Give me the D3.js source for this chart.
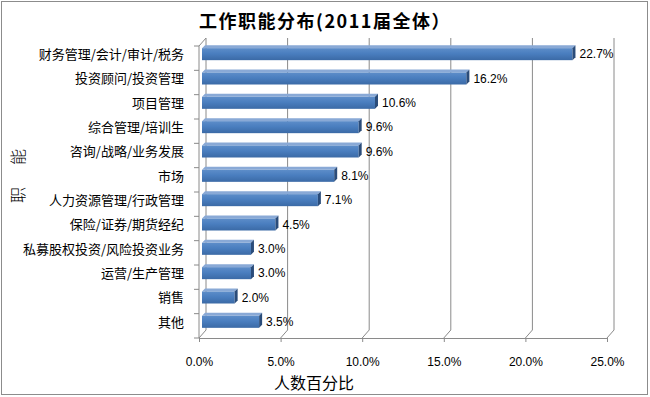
<!DOCTYPE html>
<html>
<head>
<meta charset="utf-8">
<script src="https://cdn.jsdelivr.net/npm/d3@7"></script>
<style>
  body { margin: 0; background: #fff; }
  text { font-family: "Noto Sans CJK SC", "Liberation Sans", sans-serif; }
</style>
</head>
<body>
<div id="chart"></div>
<script>
const categories = ["财务管理/会计/审计/税务", "投资顾问/投资管理", "项目管理", "综合管理/培训生",
  "咨询/战略/业务发展", "市场", "人力资源管理/行政管理", "保险/证券/期货经纪",
  "私募股权投资/风险投资业务", "运营/生产管理", "销售", "其他"];
const values = [0.227, 0.162, 0.106, 0.096, 0.096, 0.081, 0.071, 0.045, 0.030, 0.030, 0.020, 0.035];
const xTicks = [0, 0.05, 0.10, 0.15, 0.20, 0.25];

const W = 650, H = 397;
const depth = { x: 7, y: 8 }; // 3d wall offset
const numFont = "'Liberation Sans', Arial, sans-serif";

const svg = d3.select("#chart").append("svg")
  .attr("width", W).attr("height", H);

// chart border
svg.append("rect")
  .attr("x", 1.5).attr("y", 1.5)
  .attr("width", 646).attr("height", 393)
  .attr("fill", "#fff").attr("stroke", "#8c8c8c");

const x = d3.scaleLinear().domain([0, 0.25]).range([199, 607]);
const y = d3.scaleBand().domain(categories).range([46, 338]);
const yBottom = y.range()[1], yTop = y.range()[0];

const defs = svg.append("defs");
const grad = defs.append("linearGradient").attr("id", "barFront")
  .attr("x1", 0).attr("y1", 0).attr("x2", 0).attr("y2", 1);
grad.append("stop").attr("offset", "0%").attr("stop-color", "#5d8dc9");
grad.append("stop").attr("offset", "45%").attr("stop-color", "#4a7ebf");
grad.append("stop").attr("offset", "100%").attr("stop-color", "#3b6aa6");

// back wall gridlines + floor slants
const grid = svg.append("g").attr("stroke", "#8a8a8a").attr("fill", "none");
xTicks.forEach(t => {
  if (t === 0) return;
  grid.append("path")
    .attr("d", `M${x(t) + depth.x},${yTop - depth.y}V${yBottom - depth.y}L${x(t)},${yBottom}`);
});

// left wall
grid.append("path")
  .attr("d", `M${x(0)},${yTop}L${x(0) + depth.x},${yTop - depth.y}V${yBottom - depth.y}L${x(0)},${yBottom}`);

// front left axis line and ticks at band edges
const yAxis = svg.append("g").attr("stroke", "#8a8a8a");
yAxis.append("line").attr("x1", x(0)).attr("x2", x(0)).attr("y1", yTop).attr("y2", yBottom);
d3.range(categories.length + 1).forEach(i => {
  const yy = yTop + i * y.step();
  yAxis.append("line").attr("x1", x(0) - 5).attr("x2", x(0)).attr("y1", yy).attr("y2", yy);
});

// bottom axis
const xAxis = svg.append("g")
  .attr("transform", `translate(0,${yBottom})`)
  .call(d3.axisBottom(x).tickValues(xTicks).tickFormat(d3.format(".1%")).tickSize(4).tickPadding(15).tickSizeOuter(0));
xAxis.select(".domain").attr("stroke", "#8a8a8a");
xAxis.selectAll(".tick line").attr("stroke", "#8a8a8a");
xAxis.selectAll(".tick text")
  .attr("fill", "#000")
  .style("font-size", "12px")
  .style("font-family", numFont);

// bars (pseudo 3d)
const bh = 12, bx = 3, by = 4, sd = 3;
const bars = svg.append("g");
categories.forEach((c, i) => {
  const v = values[i];
  const x0 = x(0) + bx, x1 = x(v) + bx;
  const yc = y(c) + y.bandwidth() / 2 - by;
  const y0 = yc - bh / 2;
  // top face
  bars.append("path")
    .attr("d", `M${x0},${y0}L${x0 + sd},${y0 - sd}H${x1 + sd}L${x1},${y0}Z`)
    .attr("fill", "#89a9d6");
  // front face
  bars.append("rect")
    .attr("x", x0).attr("y", y0)
    .attr("width", x1 - x0).attr("height", bh)
    .attr("fill", "url(#barFront)");
  // right face
  bars.append("path")
    .attr("d", `M${x1},${y0}L${x1 + sd},${y0 - sd}V${y0 + bh - sd}L${x1},${y0 + bh}Z`)
    .attr("fill", "#2a4c7a");
  // value label
  bars.append("text")
    .attr("x", x1 + sd + 4).attr("y", yc)
    .attr("dy", "0.36em")
    .style("font-size", "12px")
    .style("font-family", numFont)
    .text(d3.format(".1%")(v));
  // category label
  bars.append("text")
    .attr("x", 184).attr("y", yc)
    .attr("dy", "0.36em")
    .attr("text-anchor", "end")
    .style("font-size", "13px")
    .text(c);
});

// title
svg.append("text")
  .attr("x", 325).attr("y", 28)
  .attr("text-anchor", "middle")
  .style("font-size", "18px")
  .style("font-weight", "bold")
  .style("letter-spacing", "1.5px")
  .text("工作职能分布(2011届全体）");

// axis titles
svg.append("text")
  .attr("x", 314).attr("y", 389)
  .attr("text-anchor", "middle")
  .style("font-size", "16px")
  .text("人数百分比");

[["能", 157], ["职", 195]].forEach(([ch, cy]) => {
  svg.append("text")
    .attr("transform", `translate(18,${cy}) rotate(-90)`)
    .attr("text-anchor", "middle")
    .attr("dy", "0.36em")
    .style("font-size", "16px")
    .style("font-weight", 300)
    .text(ch);
});
</script>
</body>
</html>
